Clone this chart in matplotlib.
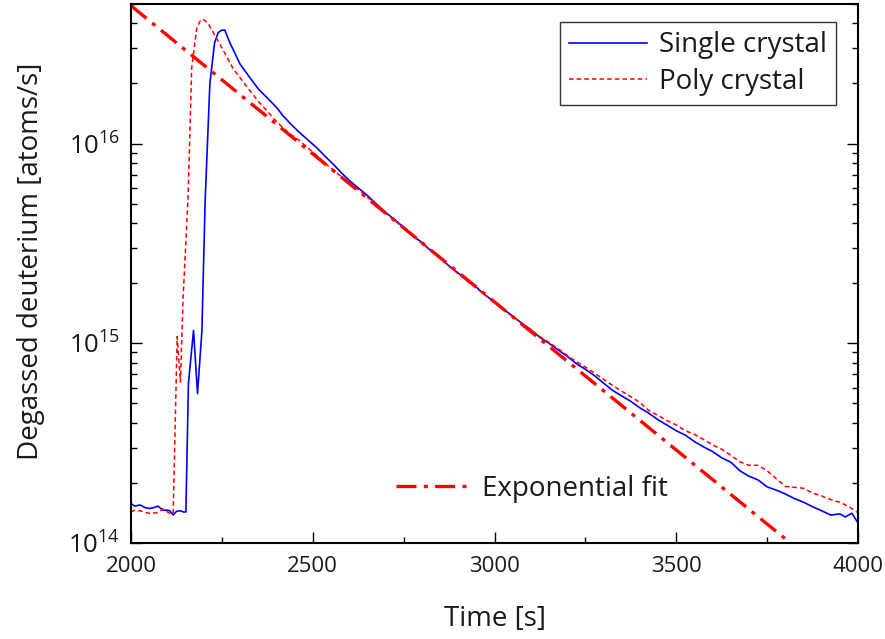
import matplotlib
matplotlib.use("Agg")
import matplotlib.pyplot as plt
from matplotlib.ticker import MultipleLocator, LogLocator, NullFormatter, LogFormatterMathtext

plt.rcParams['font.family'] = ['Open Sans', 'DejaVu Sans']
plt.rcParams['mathtext.fontset'] = 'custom'
plt.rcParams['mathtext.rm'] = 'Open Sans'
plt.rcParams['mathtext.it'] = 'Open Sans:italic'
plt.rcParams['mathtext.bf'] = 'Open Sans:bold'

TEXT = '#1a1a1a'

# ---------------- data ----------------
single_t = [2000, 2010, 2025, 2040, 2050, 2061, 2074, 2088, 2100, 2107, 2116, 2125, 2135, 2145, 2151,
            2158, 2172, 2183, 2195, 2204, 2217, 2230, 2240, 2250, 2258, 2272, 2300, 2327, 2350, 2374,
            2400, 2418, 2440, 2465, 2490, 2512, 2535, 2556, 2580, 2602,
            2625, 2650, 2675, 2700, 2725, 2750, 2775, 2800, 2825, 2850, 2875, 2900, 2925, 2950, 2975,
            3000, 3025, 3050, 3075, 3100, 3125, 3150, 3175, 3200, 3225, 3250, 3275, 3300, 3325, 3350,
            3375, 3400, 3425, 3450, 3475, 3500, 3525, 3550, 3575, 3600, 3625, 3650, 3675, 3700, 3725,
            3750, 3775, 3800, 3825, 3850, 3875, 3900, 3925, 3950, 3965, 3983, 4000]
single_v = [1.58e14, 1.53e14, 1.55e14, 1.50e14, 1.49e14, 1.50e14, 1.53e14, 1.46e14, 1.46e14, 1.45e14,
            1.38e14, 1.44e14, 1.45e14, 1.43e14, 1.43e14,
            6.3e14, 1.16e15, 5.6e14, 1.15e15, 5.2e15, 2.0e16, 3.2e16, 3.6e16, 3.7e16, 3.7e16, 3.2e16,
            2.5e16, 2.14e16, 1.88e16, 1.70e16,
            1.52e16, 1.38e16, 1.25e16, 1.13e16, 1.03e16, 9.5e15, 8.6e15, 7.9e15, 7.1e15, 6.5e15,
            6.0e15, 5.5e15, 4.99e15, 4.53e15, 4.16e15, 3.81e15, 3.46e15, 3.20e15, 2.91e15, 2.68e15,
            2.44e15, 2.25e15, 2.06e15, 1.91e15, 1.74e15,
            1.61e15, 1.48e15, 1.37e15, 1.26e15, 1.17e15, 1.07e15, 1.00e15, 9.27e14, 8.61e14, 7.91e14,
            7.41e14, 6.89e14, 6.32e14, 5.81e14, 5.45e14,
            5.12e14, 4.75e14, 4.46e14, 4.14e14, 3.89e14, 3.65e14, 3.47e14, 3.22e14, 3.03e14, 2.87e14,
            2.67e14, 2.54e14, 2.30e14, 2.16e14, 2.07e14,
            1.91e14, 1.84e14, 1.76e14, 1.67e14, 1.60e14, 1.52e14, 1.45e14, 1.38e14, 1.40e14, 1.35e14,
            1.41e14, 1.26e14]

poly_t = [2000, 2010, 2025, 2040, 2050, 2061, 2074, 2088, 2100, 2107, 2116, 2127, 2136, 2143, 2157,
          2167, 2181, 2190, 2198, 2212, 2236, 2260, 2281, 2305, 2327, 2350, 2374, 2395, 2418, 2440,
          2465, 2490, 2512, 2540, 2567, 2600,
          2625, 2650, 2675, 2700, 2725, 2750, 2775, 2800, 2825, 2850, 2875, 2900, 2925, 2950, 2975,
          3000, 3025, 3050, 3075, 3100, 3125, 3150, 3175, 3200, 3225, 3250, 3275, 3300, 3325, 3350,
          3375, 3400, 3425, 3450, 3475, 3500, 3525, 3550, 3575, 3600, 3625, 3650, 3675, 3700, 3725,
          3750, 3775, 3800, 3825, 3850, 3875, 3900, 3925, 3950, 3975, 4000]
poly_v = [1.43e14, 1.46e14, 1.45e14, 1.42e14, 1.41e14, 1.41e14, 1.42e14, 1.48e14, 1.43e14, 1.41e14,
          1.40e14, 1.08e15, 6.4e14, 1.64e15, 5.4e15,
          2.4e16, 3.8e16, 4.1e16, 4.2e16, 4.0e16, 3.35e16, 2.8e16, 2.37e16, 2.08e16, 1.84e16, 1.63e16,
          1.46e16, 1.32e16, 1.20e16, 1.11e16,
          1.03e16, 9.4e15, 8.7e15, 7.8e15, 7.1e15, 6.35e15,
          5.9e15, 5.4e15, 4.95e15, 4.50e15, 4.12e15, 3.78e15, 3.45e15, 3.17e15, 2.90e15, 2.66e15,
          2.43e15, 2.23e15, 2.05e15, 1.89e15, 1.74e15,
          1.60e15, 1.47e15, 1.36e15, 1.26e15, 1.17e15, 1.08e15, 1.01e15, 9.4e14, 8.7e14, 8.1e14,
          7.6e14, 7.1e14, 6.6e14, 6.15e14, 5.75e14,
          5.4e14, 5.05e14, 4.6e14, 4.35e14, 4.1e14, 3.9e14, 3.65e14, 3.5e14, 3.3e14, 3.1e14,
          2.95e14, 2.75e14, 2.55e14, 2.45e14, 2.45e14,
          2.3e14, 2.1e14, 1.92e14, 1.9e14, 1.88e14, 1.78e14, 1.72e14, 1.65e14, 1.60e14, 1.52e14, 1.42e14]

fit_t = [2000, 4000]
fit_v = [4.9e16, 5.3e13]

x_ticks = [2000, 2500, 3000, 3500, 4000]
labels = ['Single crystal', 'Poly crystal', 'Exponential fit']
xlabel = 'Time [s]'
ylabel = 'Degassed deuterium [atoms/s]'

# ---------------- figure ----------------
fig = plt.figure(figsize=(8.85, 6.39), dpi=100)
ax = fig.add_axes([131/885, 96/639, 727/885, 539/639])

l1, = ax.plot(single_t, single_v, color='#0000ff', lw=1.2, label=labels[0])
l2, = ax.plot(poly_t, poly_v, color='#ff0000', lw=1.1, linestyle=(0, (3, 2)), label=labels[1])
l3, = ax.plot(fit_t, fit_v, color='#ff0000', lw=2.4, linestyle=(0, (6, 2.2, 1.2, 2.2)), label=labels[2])

ax.set_yscale('log')
ax.set_xlim(2000, 4000)
ax.set_ylim(1e14, 5e16)

ax.xaxis.set_major_locator(MultipleLocator(500))
ax.xaxis.set_minor_locator(MultipleLocator(250))
ax.set_xticks(x_ticks)
ax.yaxis.set_major_locator(LogLocator(base=10, numticks=10))
ax.yaxis.set_minor_locator(LogLocator(base=10, subs=[2, 3, 4, 5, 6, 7, 8, 9], numticks=20))
ax.yaxis.set_major_formatter(LogFormatterMathtext())
ax.yaxis.set_minor_formatter(NullFormatter())

ax.tick_params(which='both', direction='in', top=False, right=True, labelright=False,
               colors='black', labelcolor=TEXT, width=1.0)
ax.tick_params(which='major', length=8)
ax.tick_params(which='minor', length=4.5)
ax.tick_params(axis='x', which='major', labelsize=16, pad=9)
ax.tick_params(axis='y', which='major', labelsize=18.5, pad=8)

for s in ax.spines.values():
    s.set_linewidth(1.5)
    s.set_color('black')

ax.set_xlabel(xlabel, fontsize=20, color=TEXT)
ax.set_ylabel(ylabel, fontsize=20, color=TEXT)
ax.xaxis.set_label_coords(0.5, -0.115)
ax.yaxis.set_label_coords(-0.118, 0.523)

leg1 = ax.legend(handles=[l1, l2], loc='upper right', bbox_to_anchor=(0.97, 0.966),
                 fontsize=20, frameon=True, fancybox=False, edgecolor='black',
                 handlelength=2.8, handletextpad=0.45, labelspacing=0.3,
                 borderpad=0.33, borderaxespad=0.0)
leg1.get_frame().set_linewidth(1.0)
for t in leg1.get_texts():
    t.set_color(TEXT)
ax.add_artist(leg1)

leg2 = ax.legend(handles=[l3], loc='center left', bbox_to_anchor=(0.365, 0.101),
                 fontsize=20, frameon=False, handlelength=2.6, handletextpad=0.5,
                 borderpad=0.0, borderaxespad=0.0)
for t in leg2.get_texts():
    t.set_color(TEXT)

fig.savefig('out.png', dpi=100)
